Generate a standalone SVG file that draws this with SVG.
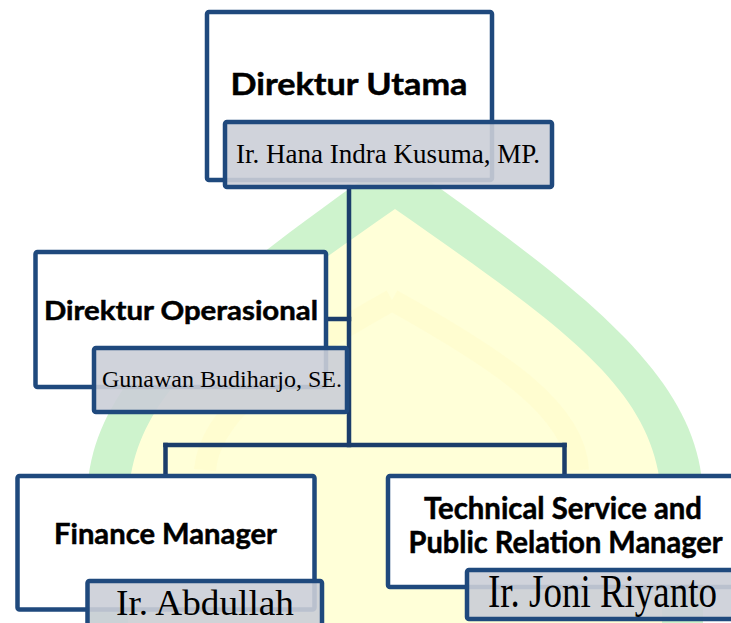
<svg xmlns="http://www.w3.org/2000/svg" width="731" height="623" viewBox="0 0 731 623">
  <defs>
    <style>
      .box { fill: #ffffff; stroke: #1f497d; stroke-width: 4.5; }
      .name { fill: #cbced7; fill-opacity: 0.9; stroke: #1f497d; stroke-width: 4.5; }
      .conn { fill: none; stroke: #1b3d6b; stroke-width: 4.5; stroke-linecap: square; }
      .title { font-family: Lato, "Open Sans", "Liberation Sans", sans-serif; font-weight: 700; fill: #000000; stroke: #000000; stroke-width: 0.5; text-anchor: middle; }
      .person { font-family: "Liberation Serif", "Times New Roman", serif; fill: #000000; text-anchor: middle; }
    </style>
  </defs>
  <rect width="731" height="623" fill="#ffffff"/>
  <g id="watermark">
    <path d="M395,156 C590,295 703,380 703,500 L703,623 L87,623 L87,500 C87,380 200,295 395,156 Z" fill="#cef3cd"/>
    <path d="M395,209 C575,335 662,395 662,510 L662,623 L128,623 L128,510 C128,395 215,335 395,209 Z" fill="#ffffd8"/>
    <path d="M392,300 C500,360 575,410 578,470 M392,300 C285,360 210,410 205,470" fill="none" stroke="#fffac4" stroke-width="22" opacity="0.35"/>
  </g>
  <g id="connectors">
    <line class="conn" x1="349" y1="187" x2="349" y2="445"/>
    <line class="conn" x1="326" y1="319" x2="349" y2="319"/>
    <line class="conn" x1="165.5" y1="445" x2="564.5" y2="445"/>
    <line class="conn" x1="165.5" y1="445" x2="165.5" y2="476"/>
    <line class="conn" x1="564.5" y1="445" x2="564.5" y2="476"/>
  </g>
  <g id="direktur-utama">
    <rect class="box" x="207" y="12" width="285" height="168" rx="2"/>
    <text class="title" x="349" y="95" font-size="31" textLength="237" lengthAdjust="spacingAndGlyphs">Direktur Utama</text>
    <rect class="name" x="225" y="122" width="327" height="65" rx="2"/>
    <text class="person" x="388" y="163" font-size="27" textLength="304" lengthAdjust="spacingAndGlyphs">Ir. Hana Indra Kusuma, MP.</text>
  </g>
  <g id="direktur-operasional">
    <rect class="box" x="35.5" y="252" width="290.5" height="135" rx="2"/>
    <text class="title" x="181" y="320" font-size="26.5" textLength="274" lengthAdjust="spacingAndGlyphs">Direktur Operasional</text>
    <rect class="name" x="94" y="348" width="253" height="64" rx="2"/>
    <text class="person" x="222" y="387" font-size="24" textLength="240" lengthAdjust="spacingAndGlyphs">Gunawan Budiharjo, SE.</text>
  </g>
  <g id="finance-manager">
    <rect class="box" x="17.5" y="476" width="297" height="133.5" rx="2"/>
    <text class="title" x="165.5" y="544" font-size="29" textLength="223" lengthAdjust="spacingAndGlyphs">Finance Manager</text>
    <rect class="name" x="87.5" y="581" width="234.5" height="60" rx="2"/>
    <text class="person" x="205" y="615" font-size="35" textLength="178" lengthAdjust="spacingAndGlyphs">Ir. Abdullah</text>
  </g>
  <g id="technical-service-manager">
    <rect class="box" x="388" y="476" width="352" height="111" rx="2"/>
    <text class="title" x="563" y="519" font-size="30" textLength="278" lengthAdjust="spacingAndGlyphs">Technical Service and</text>
    <text class="title" x="565.5" y="553" font-size="30" textLength="314" lengthAdjust="spacingAndGlyphs">Public Relation Manager</text>
    <rect class="name" x="467" y="570" width="271" height="49" rx="2"/>
    <text class="person" x="602.5" y="607" font-size="46" textLength="229" lengthAdjust="spacingAndGlyphs">Ir. Joni Riyanto</text>
  </g>
</svg>
